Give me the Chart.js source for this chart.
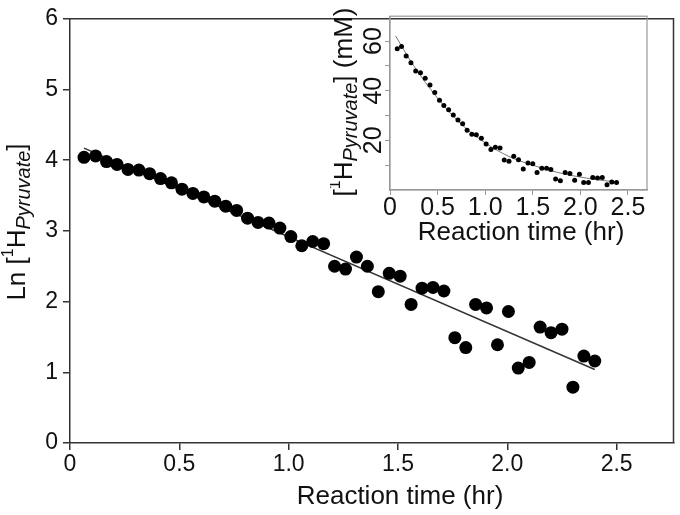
<!DOCTYPE html>
<html>
<head>
<meta charset="utf-8">
<script src="https://cdn.jsdelivr.net/npm/chart.js@4.4.1/dist/chart.umd.min.js"></script>
<style>
  body { margin: 0; background: #fff; }
  #wrap { position: relative; width: 680px; height: 515px; }
  #mainChart { position: absolute; left: 0; top: 0; }
  #insetChart { position: absolute; left: 330px; top: 0; }
</style>
</head>
<body>
<div id="wrap">
  <canvas id="mainChart" width="680" height="515"></canvas>
  <canvas id="insetChart" width="350" height="250"></canvas>
</div>
<script>
// main plot: Ln of pyruvate vs time
const mainTime = [0.064, 0.117, 0.167, 0.215, 0.265, 0.315, 0.364, 0.414, 0.464, 0.512,
  0.562, 0.612, 0.662, 0.712, 0.762, 0.812, 0.86, 0.91, 0.96, 1.01,
  1.06, 1.11, 1.16, 1.21, 1.26, 1.31, 1.36, 1.41, 1.46, 1.51,
  1.56, 1.61, 1.66, 1.71, 1.76, 1.81, 1.855, 1.905, 1.955, 2.005,
  2.05, 2.10, 2.15, 2.20, 2.25, 2.30, 2.35, 2.40];
const mainLn = [4.04, 4.06, 3.98, 3.94, 3.87, 3.86, 3.81, 3.74, 3.68, 3.59,
  3.53, 3.48, 3.42, 3.35, 3.29, 3.18, 3.12, 3.11, 3.04, 2.92,
  2.79, 2.85, 2.82, 2.50, 2.46, 2.63, 2.50, 2.14, 2.40, 2.36,
  1.96, 2.19, 2.20, 2.15, 1.49, 1.35, 1.96, 1.91, 1.39, 1.86,
  1.06, 1.14, 1.64, 1.56, 1.61, 0.79, 1.23, 1.16];
const mainFitTime = [0.064, 2.40];
const mainFitLn = [4.17, 1.04];
const mainXTicks = [0, 0.5, 1.0, 1.5, 2.0, 2.5];
const mainYTicks = [0, 1, 2, 3, 4, 5, 6];

// inset: concentration (mM) vs time
const insetTime = [0.076, 0.121, 0.17, 0.22, 0.27, 0.32, 0.37, 0.42, 0.47, 0.52,
  0.566, 0.616, 0.665, 0.714, 0.763, 0.81, 0.86, 0.907, 0.96, 1.01,
  1.06, 1.107, 1.156, 1.2, 1.25, 1.30, 1.35, 1.40, 1.45, 1.50,
  1.545, 1.595, 1.645, 1.69, 1.74, 1.79, 1.84, 1.89, 1.94, 1.99,
  2.035, 2.085, 2.13, 2.18, 2.23, 2.28, 2.33, 2.38];
const insetConc = [56.9, 57.8, 54.0, 51.3, 47.9, 47.2, 45.0, 42.3, 39.3, 36.1,
  34.0, 32.3, 30.2, 28.2, 26.7, 24.1, 22.5, 22.3, 20.8, 18.5,
  16.3, 17.2, 16.9, 12.1, 11.6, 13.6, 12.2, 8.5, 10.9, 10.6,
  7.0, 8.8, 8.8, 8.3, 4.4, 3.7, 7.0, 6.6, 3.9, 6.3,
  3.0, 3.0, 5.0, 4.8, 5.0, 2.1, 3.2, 3.0];
const insetFitTime = [0.06, 0.25, 0.5, 0.75, 1.0, 1.25, 1.5, 1.75, 2.0, 2.25, 2.38];
const insetFitConc = [62, 50, 37, 26.5, 19, 13.5, 10, 7.2, 5.2, 3.8, 3.2];
const insetXTicks = [0, 0.5, 1.0, 1.5, 2.0, 2.5];
const insetYTicks = [10, 20, 30, 40, 50, 60];
const insetYLabels = [20, 40, 60];

const FONT = '"Liberation Sans", Arial, sans-serif';

const pts = (xs, ys) => xs.map((x, i) => ({ x: x, y: ys[i] }));
const fmt = (v) => (v === 0 ? '0' : v.toFixed(1));

// draws text made of pieces (superscript / italic subscript), centred on x,y
function drawRich(ctx, parts, x, y, rotate) {
  ctx.save();
  ctx.translate(x, y);
  if (rotate) ctx.rotate(-Math.PI / 2);
  let total = 0;
  parts.forEach((p) => {
    ctx.font = `${p.italic ? 'italic ' : ''}${p.size}px ${FONT}`;
    total += ctx.measureText(p.t).width;
  });
  let cx = -total / 2;
  ctx.fillStyle = '#111';
  ctx.textBaseline = 'middle';
  ctx.textAlign = 'left';
  parts.forEach((p) => {
    ctx.font = `${p.italic ? 'italic ' : ''}${p.size}px ${FONT}`;
    ctx.fillText(p.t, cx, p.dy || 0);
    cx += ctx.measureText(p.t).width;
  });
  ctx.restore();
}

const mainDecor = {
  id: 'mainDecor',
  afterDraw(chart) {
    const ctx = chart.ctx;
    const a = chart.chartArea;
    ctx.save();
    ctx.strokeStyle = '#333';
    ctx.lineWidth = 1.5;
    ctx.beginPath();
    ctx.moveTo(a.left, a.top);
    ctx.lineTo(a.right, a.top);
    ctx.lineTo(a.right, a.bottom);
    ctx.stroke();
    ctx.restore();
    drawRich(ctx, [{ t: 'Reaction time (hr)', size: 26 }], 400, 497, false);
    drawRich(ctx, [
      { t: 'Ln [', size: 26 },
      { t: '1', size: 16, dy: -9 },
      { t: 'H', size: 26 },
      { t: 'Pyruvate', size: 20, italic: true, dy: 6 },
      { t: ']', size: 26 },
    ], 18, 222, true);
  },
};

const insetDecor = {
  id: 'insetDecor',
  afterDraw(chart) {
    const ctx = chart.ctx;
    const a = chart.chartArea;
    ctx.save();
    ctx.strokeStyle = '#999';
    ctx.lineWidth = 1.2;
    ctx.strokeRect(a.left, a.top, a.right - a.left, a.bottom - a.top);
    ctx.restore();
    const ys = chart.scales.y;
    insetYLabels.forEach((v) => {
      drawRich(ctx, [{ t: String(v), size: 25 }], 44, ys.getPixelForValue(v), true);
    });
    drawRich(ctx, [{ t: 'Reaction time (hr)', size: 26 }], 191, 233, false);
    drawRich(ctx, [
      { t: '[', size: 26 },
      { t: '1', size: 16, dy: -9 },
      { t: 'H', size: 26 },
      { t: 'Pyruvate', size: 20, italic: true, dy: 6 },
      { t: '] (mM)', size: 26 },
    ], 15, 102, true);
  },
};

new Chart(document.getElementById('mainChart'), {
  type: 'scatter',
  data: {
    datasets: [
      {
        data: pts(mainTime, mainLn),
        backgroundColor: '#000',
        borderWidth: 0,
        pointRadius: 6.5,
      },
      {
        data: pts(mainFitTime, mainFitLn),
        showLine: true,
        borderColor: '#333',
        borderWidth: 1.5,
        pointRadius: 0,
      },
    ],
  },
  options: {
    responsive: false,
    animation: false,
    layout: { padding: { top: 10, right: 3, left: 0, bottom: 0 } },
    plugins: { legend: { display: false }, tooltip: { enabled: false } },
    scales: {
      x: {
        type: 'linear',
        min: 0,
        max: 2.76,
        afterBuildTicks: (s) => { s.ticks = mainXTicks.map((v) => ({ value: v })); },
        afterFit: (s) => { s.height = 72; },
        ticks: { callback: fmt, font: { family: FONT, size: 23 }, color: '#111', padding: 1, maxRotation: 0 },
        grid: { drawOnChartArea: false, tickLength: 7, color: '#333', lineWidth: 1.5 },
        border: { color: '#333', width: 1.5 },
      },
      y: {
        min: 0,
        max: 6,
        afterBuildTicks: (s) => { s.ticks = mainYTicks.map((v) => ({ value: v })); },
        afterFit: (s) => { s.width = 70; },
        ticks: { font: { family: FONT, size: 23 }, color: '#111', padding: 5 },
        grid: { drawOnChartArea: false, tickLength: 7, color: '#333', lineWidth: 1.5 },
        border: { color: '#333', width: 1.5 },
      },
    },
  },
  plugins: [mainDecor],
});

new Chart(document.getElementById('insetChart'), {
  type: 'scatter',
  data: {
    datasets: [
      {
        data: pts(insetTime, insetConc),
        backgroundColor: '#000',
        borderWidth: 0,
        pointRadius: 2.5,
      },
      {
        data: pts(insetFitTime, insetFitConc),
        showLine: true,
        borderColor: '#777',
        borderWidth: 1,
        tension: 0.4,
        pointRadius: 0,
      },
    ],
  },
  options: {
    responsive: false,
    animation: false,
    layout: { padding: { top: 15, right: 33, left: 0, bottom: 0 } },
    plugins: { legend: { display: false }, tooltip: { enabled: false } },
    scales: {
      x: {
        type: 'linear',
        min: 0,
        max: 2.7,
        afterBuildTicks: (s) => { s.ticks = insetXTicks.map((v) => ({ value: v })); },
        afterFit: (s) => { s.height = 60; },
        ticks: { callback: fmt, font: { family: FONT, size: 25 }, color: '#111', padding: -2, maxRotation: 0 },
        grid: { drawOnChartArea: false, tickLength: 5, color: '#999' },
        border: { color: '#999', width: 1.2 },
      },
      y: {
        min: 0,
        max: 70,
        afterBuildTicks: (s) => { s.ticks = insetYTicks.map((v) => ({ value: v })); },
        afterFit: (s) => { s.width = 60; },
        ticks: { callback: () => '', font: { family: FONT, size: 22 } },
        grid: { drawOnChartArea: false, tickLength: 5, color: '#999' },
        border: { color: '#999', width: 1.2 },
      },
    },
  },
  plugins: [insetDecor],
});
</script>
</body>
</html>
